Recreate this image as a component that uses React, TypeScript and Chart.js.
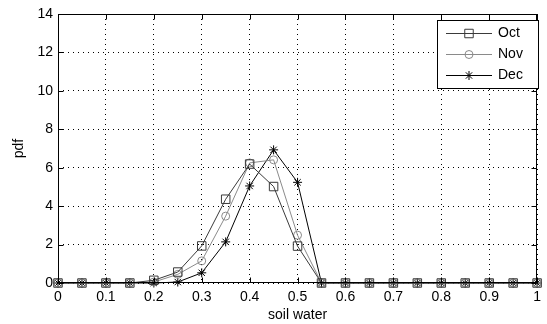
import React, { useEffect, useRef } from 'react';
import { Chart, registerables } from 'chart.js';

Chart.register(...registerables);

const xValues = [0, 0.05, 0.1, 0.15, 0.2, 0.25, 0.3, 0.35, 0.4, 0.45, 0.5, 0.55, 0.6, 0.65, 0.7, 0.75, 0.8, 0.85, 0.9, 0.95, 1];
const octValues = [0, 0, 0, 0, 0.14, 0.57, 1.93, 4.36, 6.19, 5.02, 1.92, 0, 0, 0, 0, 0, 0, 0, 0, 0, 0];
const novValues = [0, 0, 0, 0, 0.05, 0.45, 1.15, 3.48, 6.25, 6.41, 2.49, 0, 0, 0, 0, 0, 0, 0, 0, 0, 0];
const decValues = [0, 0, 0, 0, 0, 0.05, 0.53, 2.14, 5.05, 6.93, 5.24, 0, 0, 0, 0, 0, 0, 0, 0, 0, 0];
const seriesLabels = ['Oct', 'Nov', 'Dec'];
const xTicks = [0, 0.1, 0.2, 0.3, 0.4, 0.5, 0.6, 0.7, 0.8, 0.9, 1];
const yTicks = [0, 2, 4, 6, 8, 10, 12, 14];
const xTitle = 'soil water';
const yTitle = 'pdf';

const FONT = "'Liberation Sans', Arial, sans-serif";
const colors = ['#3a3a3a', '#8a8a8a', '#000000'];
const styles = ['rect', 'circle', 'star'];
const radii = [6, 4, 4.5];

function drawMarker(ctx: CanvasRenderingContext2D, style: string, x: number, y: number, r: number, color: string) {
  ctx.save();
  ctx.strokeStyle = color;
  ctx.lineWidth = 1;
  ctx.beginPath();
  if (style === 'rect') {
    const s = r * Math.SQRT1_2;
    ctx.rect(x - s, y - s, 2 * s, 2 * s);
  } else if (style === 'circle') {
    ctx.arc(x, y, r, 0, Math.PI * 2);
  } else {
    for (let i = 0; i < 4; i++) {
      const a = (i * Math.PI) / 4;
      ctx.moveTo(x - Math.cos(a) * r, y - Math.sin(a) * r);
      ctx.lineTo(x + Math.cos(a) * r, y + Math.sin(a) * r);
    }
  }
  ctx.stroke();
  ctx.restore();
}

const framePlugin = {
  id: 'frame',
  afterDraw(chart: any) {
    const ctx: CanvasRenderingContext2D = chart.ctx;
    const { left, right, top, bottom } = chart.chartArea;
    const xs = chart.scales.x;
    const ys = chart.scales.y;
    ctx.save();
    ctx.strokeStyle = '#000';
    ctx.lineWidth = 1;
    const L = Math.round(left) + 0.5;
    const R = Math.round(right) - 0.5;
    const T = Math.round(top) + 0.5;
    const B = Math.round(bottom) - 0.5;
    ctx.strokeRect(L, T, R - L, B - T);
    const tl = 5;
    ctx.beginPath();
    xTicks.forEach((v) => {
      const px = Math.round(xs.getPixelForValue(v)) + 0.5;
      ctx.moveTo(px, B);
      ctx.lineTo(px, B - tl);
      ctx.moveTo(px, T);
      ctx.lineTo(px, T + tl);
    });
    yTicks.forEach((v) => {
      const py = Math.round(ys.getPixelForValue(v)) + 0.5;
      ctx.moveTo(L, py);
      ctx.lineTo(L + tl, py);
      ctx.moveTo(R, py);
      ctx.lineTo(R - tl, py);
    });
    ctx.stroke();

    // legend
    const bx = 437.5, by = 20.5, bw = 101, bh = 68;
    ctx.fillStyle = '#fff';
    ctx.fillRect(bx, by, bw, bh);
    ctx.strokeStyle = '#000';
    ctx.strokeRect(bx, by, bw, bh);
    const rows = [33.5, 54.5, 75.5];
    chart.data.datasets.forEach((ds: any, i: number) => {
      const y = rows[i];
      ctx.strokeStyle = ds.borderColor;
      ctx.lineWidth = 1;
      ctx.beginPath();
      ctx.moveTo(446, y);
      ctx.lineTo(492, y);
      ctx.stroke();
      drawMarker(ctx, ds.pointStyle, 469, y, ds.pointRadius, ds.borderColor);
      ctx.fillStyle = '#000';
      ctx.font = `14px ${FONT}`;
      ctx.textAlign = 'left';
      ctx.textBaseline = 'middle';
      ctx.fillText(ds.label, 498, y);
    });
    ctx.restore();
  },
};

export default function App() {
  const ref = useRef<HTMLCanvasElement>(null);
  useEffect(() => {
    if (!ref.current) return;
    const series = [octValues, novValues, decValues];
    const chart = new Chart(ref.current, {
      type: 'line',
      data: {
        datasets: series.map((vals, i) => ({
          label: seriesLabels[i],
          data: xValues.map((x, j) => ({ x, y: vals[j] })),
          borderColor: colors[i],
          backgroundColor: 'transparent',
          borderWidth: 1,
          pointStyle: styles[i] as any,
          pointRadius: radii[i],
          pointBorderWidth: 1,
          pointBorderColor: colors[i],
          pointBackgroundColor: 'transparent',
          fill: false,
          tension: 0,
          clip: false as any,
        })),
      },
      options: {
        animation: false,
        responsive: false,
        devicePixelRatio: 1,
        layout: { padding: { top: 14, right: 5, left: 0, bottom: 0 } },
        plugins: { legend: { display: false }, tooltip: { enabled: false } },
        scales: {
          x: {
            type: 'linear',
            min: 0,
            max: 1,
            afterFit: (s: any) => { s.height = 41; },
            afterBuildTicks: (s: any) => { s.ticks = xTicks.map((v) => ({ value: v })); },
            ticks: {
              color: '#000',
              font: { family: FONT, size: 14 },
              padding: 6,
              maxRotation: 0,
              autoSkip: false,
              callback: (v: any) => String(Math.round(Number(v) * 10) / 10),
            },
            grid: { color: '#000', lineWidth: 1, drawTicks: false },
            border: { display: false, dash: [1, 4] },
            title: { display: true, text: xTitle, color: '#000', font: { family: FONT, size: 14 }, padding: { top: 0, bottom: 0 } },
          },
          y: {
            type: 'linear',
            min: 0,
            max: 14,
            afterFit: (s: any) => { s.width = 58; },
            afterBuildTicks: (s: any) => { s.ticks = yTicks.map((v) => ({ value: v })); },
            ticks: {
              color: '#000',
              font: { family: FONT, size: 14 },
              padding: 5,
              autoSkip: false,
            },
            grid: { color: '#000', lineWidth: 1, drawTicks: false },
            border: { display: false, dash: [1, 4] },
            title: { display: true, text: yTitle, color: '#000', font: { family: FONT, size: 14 }, padding: { top: 11, bottom: 0 } },
          },
        },
      },
      plugins: [framePlugin],
    });
    return () => chart.destroy();
  }, []);
  return (
    <div style={{ position: 'absolute', left: 0, top: 0, width: 547, height: 324, background: '#fff' }}>
      <canvas ref={ref} width={547} height={324} style={{ width: 547, height: 324, display: 'block' }} />
    </div>
  );
}
